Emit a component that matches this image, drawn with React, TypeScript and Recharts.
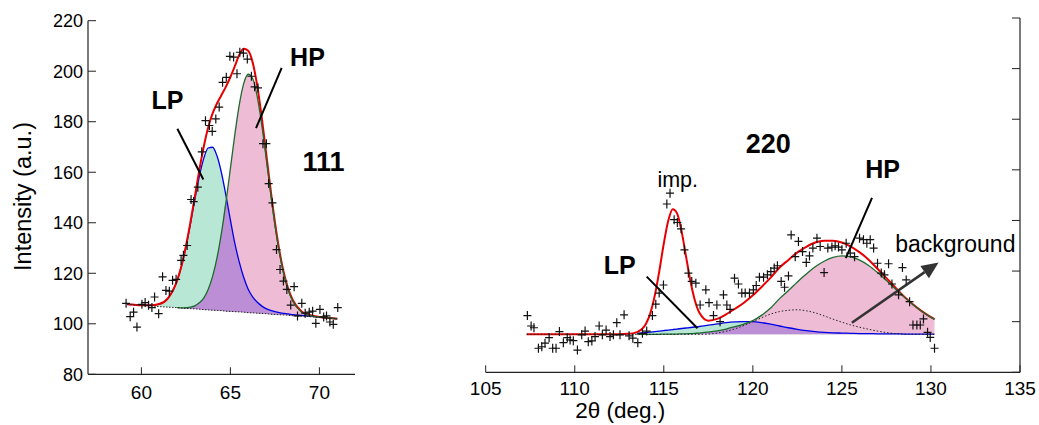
import React from 'react';
import { ComposedChart, Line, Area, Scatter, XAxis, YAxis, ReferenceLine, ReferenceDot } from 'recharts';

const FONT = '"Liberation Sans", Arial, Helvetica, sans-serif';
const MINT = '#b8e8d5';
const PINK = '#eebcd5';
const PURPLE = '#bb8ed6';
const RED = '#e80000';
const BLUE = '#0000e6';
const GREEN = '#1b6b2c';

// ---------------- 111 panel ----------------
const x111 = [59.2, 59.5, 60, 60.5, 61, 61.5, 62, 62.25, 62.5, 62.75, 63, 63.25, 63.5, 63.75, 64, 64.25, 64.5, 64.75, 65, 65.25, 65.5, 65.75, 66, 66.25, 66.5, 66.75, 67, 67.25, 67.5, 67.75, 68, 68.25, 68.5, 69, 69.5, 70, 70.5, 71];
const base111 = [107.7, 107.6, 107.3, 107.1, 106.8, 106.6, 106.4, 106.2, 106.1, 106.0, 105.9, 105.8, 105.6, 105.5, 105.4, 105.3, 105.2, 105.0, 104.9, 104.8, 104.7, 104.6, 104.4, 104.3, 104.2, 104.1, 104.0, 103.8, 103.7, 103.6, 103.5, 103.4, 103.2, 103.0, 102.8, 102.5, 102.3, 102.0];
const lp111 = [107.7, 107.6, 107.3, 107.3, 107.8, 110.2, 117.0, 122.8, 130.4, 139.4, 149.1, 158.2, 165.4, 169.6, 169.9, 166.4, 159.7, 150.8, 141.1, 131.8, 124.4, 118.3, 113.7, 110.7, 108.6, 107.1, 106.0, 105.3, 104.8, 104.4, 104.1, 103.9, 103.6, 103.3, 103.0, 102.6, 102.3, 102.0];
const hp111 = [107.7, 107.6, 107.3, 107.1, 106.8, 106.6, 106.4, 106.3, 106.4, 106.6, 107.1, 108.3, 110.2, 113.6, 118.8, 126.2, 136.1, 148.1, 161.5, 175.0, 186.8, 195.2, 198.8, 197.1, 190.2, 179.3, 166.1, 152.2, 139.2, 128.2, 119.6, 113.3, 109.0, 104.6, 103.2, 102.6, 102.3, 102.0];
const fit111 = [107.7, 107.6, 107.3, 107.3, 107.8, 110.2, 117.0, 122.9, 130.7, 140.0, 150.3, 160.7, 170.0, 177.7, 183.3, 187.3, 190.6, 193.9, 197.7, 202.0, 206.5, 208.9, 208.1, 203.5, 194.6, 182.3, 168.1, 153.7, 140.3, 129.0, 120.2, 113.8, 109.4, 104.9, 103.4, 102.7, 102.3, 102.0];
const hpLineStart111 = 61.9;

const obs111: [number, number][] = [
  [59.14, 108.1], [59.37, 102.8], [59.56, 104.6], [59.75, 98.7], [60.03, 107.7], [60.21, 108.4], [60.4, 107.3], [60.59, 106.4], [60.74, 110.6], [60.97, 104.0],
  [61.19, 118.6], [61.38, 113.2], [61.57, 112.9], [61.75, 117.2], [61.95, 117.6], [62.23, 125.1], [62.36, 127.1], [62.57, 131.0], [62.79, 149.2], [62.94, 148.4],
  [63.17, 154.1], [63.39, 168.1], [63.6, 180.4], [63.82, 178.5], [63.98, 176.2], [64.18, 181.1], [64.37, 185.8], [64.56, 195.6], [64.77, 197.6], [64.97, 205.9],
  [65.18, 205.6], [65.37, 199.0], [65.53, 207.5], [65.73, 207.2], [65.95, 204.8], [66.18, 198.0], [66.36, 193.8], [66.55, 193.4], [66.83, 171.3], [67.02, 171.3],
  [67.15, 155.5], [67.36, 147.9], [67.59, 129.4], [67.79, 121.5], [67.98, 116.9], [68.17, 113.6], [68.39, 107.4], [68.58, 114.7], [68.77, 103.1], [69.01, 108.1],
  [69.2, 104.2], [69.43, 104.6], [69.62, 105.0], [69.8, 100.2], [70.03, 105.7], [70.24, 102.7], [70.4, 103.1], [70.59, 100.7], [70.78, 99.8], [71.03, 106.4],
];

const xTicks111 = [60, 65, 70];
const yTicks = [80, 100, 120, 140, 160, 180, 200, 220];

const labels111 = [
  { text: 'LP', x: 61.47, y: 185.2, size: 25, bold: true },
  { text: 'HP', x: 69.33, y: 202.2, size: 25, bold: true },
  { text: '111', x: 70.23, y: 160.4, size: 27, bold: true },
  { text: 'Intensity (a.u.)', x: 53.35, y: 150.4, size: 23.5, bold: false, rotate: true },
];
const pointers111 = [
  [{ x: 62.02, y: 177.2 }, { x: 63.48, y: 157.1 }],
  [{ x: 67.88, y: 201.3 }, { x: 66.44, y: 177.5 }],
];

// ---------------- 220 panel ----------------
const x220 = [107.3, 108, 109, 110, 111, 112, 113, 113.5, 114, 114.25, 114.5, 114.75, 115, 115.25, 115.5, 115.75, 116, 116.25, 116.5, 116.75, 117, 117.5, 118, 118.5, 119, 119.5, 120, 120.5, 121, 121.5, 122, 122.5, 123, 123.5, 124, 124.5, 125, 125.5, 126, 126.5, 127, 127.5, 128, 128.5, 129, 129.5, 130, 130.2];
const baseline220 = 95;
const lp220 = [95.0, 95.0, 95.0, 95.0, 95.0, 95.0, 95.2, 95.4, 95.7, 95.9, 96.1, 96.3, 96.5, 96.7, 96.9, 97.1, 97.3, 97.5, 97.7, 97.9, 98.1, 98.6, 99.1, 99.6, 99.9, 100.0, 100.0, 99.6, 99.0, 98.3, 97.6, 97.0, 96.5, 96.1, 95.8, 95.6, 95.5, 95.4, 95.3, 95.3, 95.2, 95.2, 95.2, 95.1, 95.1, 95.1, 95.1, 95.1];
const hp220 = [95.0, 95.0, 95.0, 95.0, 95.0, 95.0, 95.0, 95.0, 95.0, 95.0, 95.0, 95.0, 95.1, 95.1, 95.1, 95.1, 95.2, 95.2, 95.3, 95.4, 95.5, 95.9, 96.4, 97.1, 98.0, 99.0, 100.4, 102.6, 105.4, 109.1, 112.3, 115.7, 118.8, 121.7, 123.9, 125.4, 126.0, 125.6, 124.3, 122.2, 119.4, 116.3, 113.0, 109.7, 106.7, 104.0, 101.7, 100.9];
const bg220 = [95.0, 95.0, 95.0, 95.0, 95.0, 95.0, 95.0, 95.0, 95.0, 95.0, 95.0, 95.0, 95.0, 95.0, 95.0, 95.0, 95.0, 95.0, 95.0, 95.0, 95.0, 95.1, 95.5, 96.2, 97.2, 98.5, 100.0, 101.6, 103.0, 104.0, 104.5, 104.7, 104.3, 103.5, 102.3, 101.0, 99.8, 98.7, 97.8, 97.0, 96.3, 95.7, 95.3, 95.1, 95.0, 95.0, 95.0, 95.0];
const fit220 = [95.0, 95.0, 95.0, 95.0, 95.0, 95.0, 95.2, 95.9, 99.2, 103.5, 110.5, 120.1, 130.9, 139.9, 144.4, 142.7, 135.7, 125.7, 115.9, 108.3, 103.5, 100.4, 101.1, 102.9, 105.1, 107.5, 110.4, 113.8, 117.4, 121.4, 124.4, 127.4, 129.6, 131.3, 132.0, 132.0, 131.3, 129.7, 127.4, 124.5, 120.9, 117.2, 113.5, 109.9, 106.8, 104.1, 101.8, 101.0];
const peakLineStart220 = 113.5;

const obs220: [number, number][] = [
  [107.34, 102.4], [107.55, 98.3], [107.71, 97.6], [107.96, 89.5], [108.15, 90.1], [108.33, 91.5], [108.56, 93.7], [108.76, 89.5], [108.95, 89.5], [109.14, 96.1],
  [109.36, 91.7], [109.58, 93.7], [109.74, 92.8], [109.92, 92.5], [110.15, 88.8], [110.39, 94.8], [110.58, 96.3], [110.76, 92.1], [110.96, 92.4], [111.14, 94.1],
  [111.37, 98.3], [111.55, 94.8], [111.76, 96.7], [111.98, 94.1], [112.17, 94.8], [112.36, 99.6], [112.54, 94.8], [112.77, 102.7], [113.05, 94.4], [113.26, 93.5],
  [113.54, 91.7], [113.8, 95.4], [114.04, 96.3], [114.36, 102.4], [114.55, 106.9], [114.74, 111.3], [114.98, 114.5], [115.17, 146.5], [115.35, 150.8], [115.58, 140.3],
  [115.76, 139.2], [115.97, 136.7], [116.16, 128.4], [116.38, 119.2], [116.57, 115.9], [116.8, 115.2], [117.04, 106.6], [117.36, 112.6], [117.54, 107.5], [117.79, 102.4],
  [117.98, 106.6], [118.16, 100.0], [118.35, 110.6], [118.54, 106.6], [118.72, 104.9], [118.97, 117.2], [119.19, 114.9], [119.38, 111.3], [119.57, 111.3], [119.81, 111.3],
  [120.03, 112.6], [120.19, 114.3], [120.37, 117.6], [120.6, 117.6], [120.82, 118.5], [121.01, 119.8], [121.2, 121.2], [121.38, 122.1], [121.59, 115.9], [121.78, 113.6],
  [122.0, 118.1], [122.15, 134.3], [122.38, 125.7], [122.56, 131.7], [122.79, 127.7], [123.0, 123.4], [123.18, 126.0], [123.37, 129.1], [123.6, 133.0], [123.78, 129.7],
  [124.0, 119.4], [124.21, 129.1], [124.44, 129.5], [124.62, 130.0], [124.81, 129.5], [125.0, 128.4], [125.24, 131.0], [125.47, 127.1], [125.71, 125.7], [125.99, 133.0],
  [126.21, 132.4], [126.4, 131.0], [126.59, 132.4], [126.78, 129.1], [127.0, 123.1], [127.21, 119.2], [127.39, 118.5], [127.62, 122.9], [127.81, 114.9], [128.18, 110.6],
  [128.4, 121.4], [128.61, 116.5], [128.8, 107.9], [128.99, 98.7], [129.21, 98.7], [129.4, 98.7], [129.58, 101.1], [129.81, 95.8], [129.96, 93.8], [130.2, 89.5],
];

const xTicks220 = [105, 110, 115, 120, 125, 130, 135];

const labels220 = [
  { text: 'imp.', x: 115.78, y: 153.4, size: 21.5, bold: false },
  { text: '220', x: 120.86, y: 166.8, size: 27, bold: true },
  { text: 'HP', x: 127.29, y: 156.9, size: 25, bold: true },
  { text: 'LP', x: 112.52, y: 118.9, size: 25, bold: true },
  { text: 'background', x: 131.37, y: 127.7, size: 23, bold: false },
  { text: '2\u03b8 (deg.)', x: 112.55, y: 61.9, size: 22.5, bold: false },
];
const pointers220 = [
  [{ x: 114.04, y: 117.8 }, { x: 116.89, y: 97.4 }],
  [{ x: 126.69, y: 148.9 }, { x: 125.22, y: 125.1 }],
];
const arrow220 = [{ x: 125.56, y: 99.6 }, { x: 130.43, y: 123.4 }];

// ---------------- tables ----------------
const table111 = x111.map((x, i) => ({
  x,
  b: base111[i],
  lp: lp111[i],
  hp: hp111[i],
  hpLine: x >= hpLineStart111 ? hp111[i] : null,
  fit: fit111[i],
}));
const table220 = x220.map((x, i) => ({
  x,
  b: baseline220,
  lp: lp220[i],
  hp: hp220[i],
  lpLine: x >= peakLineStart220 ? lp220[i] : null,
  hpLine: x >= peakLineStart220 ? hp220[i] : null,
  bg: bg220[i],
  fit: fit220[i],
}));
const pts111 = obs111.map(([x, y]) => ({ x, y }));
const pts220 = obs220.map(([x, y]) => ({ x, y }));

// ---------------- shapes ----------------
const Plus = (props: any) => {
  const { cx, cy } = props;
  if (cx == null || cy == null) return null;
  return (
    <path d={`M${cx - 4},${cy}H${cx + 4}M${cx},${cy - 4.5}V${cy + 4.5}`} stroke="#111" strokeWidth={1.2} fill="none" />
  );
};

const makeText = (l: any) => (props: any) => {
  const { cx, cy } = props;
  return (
    <text
      x={cx}
      y={cy}
      textAnchor="middle"
      fontFamily={FONT}
      fontSize={l.size}
      fontWeight={l.bold ? 'bold' : 'normal'}
      fill="#000"
      dominantBaseline={l.rotate ? 'central' : 'alphabetic'}
      transform={l.rotate ? `rotate(-90 ${cx} ${cy})` : undefined}
    >
      {l.text}
    </text>
  );
};

const ArrowShape = (props: any) => {
  const { x1, y1, x2, y2 } = props;
  if ([x1, y1, x2, y2].some((v) => v == null || isNaN(v))) return null;
  const ang = Math.atan2(y2 - y1, x2 - x1);
  const L = 17;
  const W = 7.5;
  const bx = x2 - L * Math.cos(ang);
  const by = y2 - L * Math.sin(ang);
  const px = -Math.sin(ang) * W;
  const py = Math.cos(ang) * W;
  return (
    <g>
      <line x1={x1} y1={y1} x2={bx} y2={by} stroke="#333" strokeWidth={2.6} />
      <polygon points={`${x2},${y2} ${bx + px},${by + py} ${bx - px},${by - py}`} fill="#333" />
    </g>
  );
};

const bottomTick = (offset: number) => (props: any) => {
  const { x, y, payload } = props;
  return (
    <g>
      <line x1={x} y1={y} x2={x} y2={y - 7} stroke="#222" strokeWidth={1} />
      <text x={x} y={y + offset} textAnchor="middle" fontFamily={FONT} fontSize={19} fill="#000">
        {payload.value}
      </text>
    </g>
  );
};

const leftTick = (props: any) => {
  const { x, y, payload } = props;
  return (
    <g>
      <line x1={x} y1={y} x2={x + 8} y2={y} stroke="#222" strokeWidth={1} />
      <text x={x - 5} y={y} dy="0.35em" textAnchor="end" fontFamily={FONT} fontSize={18} fill="#000">
        {payload.value}
      </text>
    </g>
  );
};

const rightTick = (props: any) => {
  const { x, y } = props;
  return <line x1={x - 8} y1={y} x2={x} y2={y} stroke="#222" strokeWidth={1} />;
};

const axisStyle = { stroke: '#222', strokeWidth: 1.2 };

export default function App() {
  return (
    <div style={{ position: 'absolute', left: 0, top: 0, width: 1039, height: 425, background: '#fff' }}>
      <div style={{ position: 'absolute', left: 0, top: 0 }}>
        <ComposedChart width={360} height={425} data={table111} margin={{ top: 20.7, right: 5, bottom: 20.7, left: 0 }}>
          <XAxis
            dataKey="x"
            type="number"
            domain={[57, 72]}
            ticks={xTicks111}
            allowDataOverflow
            height={30}
            axisLine={axisStyle}
            tickLine={false}
            tickSize={0}
            tickMargin={0}
            tick={bottomTick(25)}
          />
          <YAxis
            type="number"
            domain={[80, 220]}
            ticks={yTicks}
            allowDataOverflow
            width={88}
            axisLine={axisStyle}
            tickLine={false}
            tickSize={0}
            tickMargin={0}
            tick={leftTick}
          />
          <Area type="monotone" dataKey={(d: any) => [d.b, d.hp]} fill={PINK} fillOpacity={1} stroke="none" isAnimationActive={false} dot={false} activeDot={false} />
          <Area type="monotone" dataKey={(d: any) => [d.b, d.lp]} fill={MINT} fillOpacity={1} stroke="none" isAnimationActive={false} dot={false} activeDot={false} />
          <Area type="monotone" dataKey={(d: any) => [d.b, Math.min(d.lp, d.hp)]} fill={PURPLE} fillOpacity={1} stroke="none" isAnimationActive={false} dot={false} activeDot={false} />
          <Line type="monotone" dataKey="lp" stroke={BLUE} strokeWidth={1.3} dot={false} activeDot={false} isAnimationActive={false} />
          <Line type="monotone" dataKey="fit" stroke={RED} strokeWidth={2} dot={false} activeDot={false} isAnimationActive={false} />
          <Line type="monotone" dataKey="hpLine" stroke={GREEN} strokeWidth={1.3} dot={false} activeDot={false} isAnimationActive={false} />
          <Line type="linear" dataKey="b" stroke="#222" strokeWidth={1} strokeDasharray="1.5 1.5" dot={false} activeDot={false} isAnimationActive={false} />
          <Scatter data={pts111} dataKey="y" shape={Plus} isAnimationActive={false} />
          {pointers111.map((seg, i) => (
            <ReferenceLine key={`p111-${i}`} segment={seg} stroke="#000" strokeWidth={2} ifOverflow="visible" />
          ))}
          {labels111.map((l, i) => (
            <ReferenceDot key={`l111-${i}`} x={l.x} y={l.y} r={1} ifOverflow="visible" shape={makeText(l)} />
          ))}
        </ComposedChart>
      </div>
      <div style={{ position: 'absolute', left: 440, top: 0 }}>
        <ComposedChart width={599} height={425} data={table220} margin={{ top: 18, right: 0, bottom: 22.7, left: 45.7 }}>
          <XAxis
            dataKey="x"
            type="number"
            domain={[105, 135]}
            ticks={xTicks220}
            allowDataOverflow
            height={30}
            axisLine={axisStyle}
            tickLine={false}
            tickSize={0}
            tickMargin={0}
            tick={bottomTick(23)}
          />
          <YAxis
            orientation="right"
            type="number"
            domain={[80, 220]}
            ticks={yTicks}
            allowDataOverflow
            width={19}
            axisLine={axisStyle}
            tickLine={false}
            tickSize={0}
            tickMargin={0}
            tick={rightTick}
          />
          <Area type="monotone" dataKey={(d: any) => [d.b, d.hp]} fill={PINK} fillOpacity={1} stroke="none" isAnimationActive={false} dot={false} activeDot={false} />
          <Area type="monotone" dataKey={(d: any) => [d.b, d.lp]} fill={MINT} fillOpacity={1} stroke="none" isAnimationActive={false} dot={false} activeDot={false} />
          <Area type="monotone" dataKey={(d: any) => [d.b, Math.min(d.lp, d.hp)]} fill={PURPLE} fillOpacity={1} stroke="none" isAnimationActive={false} dot={false} activeDot={false} />
          <Line type="monotone" dataKey="lpLine" stroke={BLUE} strokeWidth={1.3} dot={false} activeDot={false} isAnimationActive={false} />
          <Line type="monotone" dataKey="fit" stroke={RED} strokeWidth={2} dot={false} activeDot={false} isAnimationActive={false} />
          <Line type="monotone" dataKey="hpLine" stroke={GREEN} strokeWidth={1.3} dot={false} activeDot={false} isAnimationActive={false} />
          <Line type="monotone" dataKey="bg" stroke="#222" strokeWidth={1} strokeDasharray="1.5 2" dot={false} activeDot={false} isAnimationActive={false} />
          <Scatter data={pts220} dataKey="y" shape={Plus} isAnimationActive={false} />
          {pointers220.map((seg, i) => (
            <ReferenceLine key={`p220-${i}`} segment={seg} stroke="#000" strokeWidth={2} ifOverflow="visible" />
          ))}
          <ReferenceLine segment={arrow220} ifOverflow="visible" shape={ArrowShape} />
          {labels220.map((l, i) => (
            <ReferenceDot key={`l220-${i}`} x={l.x} y={l.y} r={1} ifOverflow="visible" shape={makeText(l)} />
          ))}
        </ComposedChart>
      </div>
    </div>
  );
}
